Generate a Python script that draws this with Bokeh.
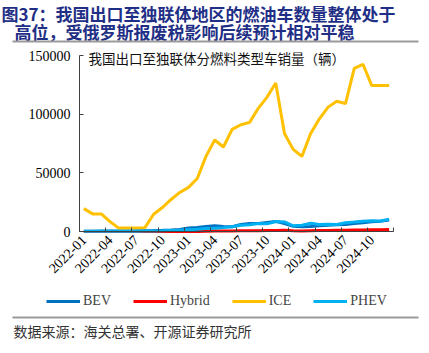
import math
from bokeh.plotting import figure
from bokeh.models import (Range1d, FixedTicker, Label, BoxAnnotation, Legend, LegendItem,
                          NumeralTickFormatter)
from bokeh.embed import file_html
from bokeh.resources import INLINE

months = [f"{y}-{m:02d}" for y in (2022, 2023, 2024) for m in range(1, 13)]

bev = [300, 300, 400, 400, 500, 500, 600, 700, 800, 1000, 1300, 1800,
       2900, 3400, 4300, 4800, 4300, 4000, 6000, 6800, 6800, 7700, 8600, 6800,
       4500, 4000, 4300, 5000, 5400, 5800, 6000, 6800, 7500, 8200, 8800, 9700]
hybrid = [0, 0, 0, 0, 0, 0, 0, 0, 0, 0, 0, 0,
          0, 0, 200, 400, 500, 500, 600, 700, 700, 800, 900, 1000,
          600, 500, 700, 800, 900, 1000, 1100, 1200, 1300, 1400, 1500, 1700]
ice = [19500, 15000, 15000, 8400, 2900, 3000, 3000, 3300, 14700, 20400, 27300, 33300,
       37600, 45200, 64000, 78000, 72000, 87000, 91000, 93000, 105000, 114500, 126500, 83500,
       70000, 64000, 83500, 96000, 106000, 111000, 109000, 139000, 142500, 124500, 124500, 124500]
phev = [200, 200, 200, 300, 300, 300, 300, 400, 500, 600, 800, 1000,
        1500, 2000, 2600, 2800, 3300, 4000, 5400, 5800, 6800, 6500, 8500, 8200,
        4800, 5400, 7000, 6000, 6200, 6000, 7500, 8000, 8800, 9100, 9000, 10500]

series_names = ["BEV", "Hybrid", "ICE", "PHEV"]
series_colors = ["#0070C0", "#FF0000", "#FFC000", "#00B0F0"]
y_ticks = [0, 50000, 100000, 150000]
y_max = 150000

title_1 = "图37：我国出口至独联体地区的燃油车数量整体处于"
title_2 = "高位，受俄罗斯报废税影响后续预计相对平稳"
inner_title = "我国出口至独联体分燃料类型车销量（辆）"
source = "数据来源：海关总署、开源证券研究所"

SERIF = "'Liberation Serif', 'Times New Roman', serif"
CJK = "'Noto Sans CJK SC'"

# ---- layout geometry (canvas pixels, from top-left) ----
W, H = 429, 353
AX_L, AX_R = 79, 393      # x extent of the category axis
AX_Y0, AX_YTOP = 231, 55  # canvas y of 0 and of y_max

n = len(months)
x0, x1 = -0.5, n - 0.5
xpx = (AX_R - AX_L) / (x1 - x0)
ypx = (AX_Y0 - AX_YTOP) / y_max
x_range = Range1d(x0 - AX_L / xpx, x1 + (W - AX_R) / xpx)
y_range = Range1d(-(H - AX_Y0) / ypx, y_max + AX_YTOP / ypx)

p = figure(width=W, height=H, output_backend="svg", toolbar_location=None,
           x_range=x_range, y_range=y_range,
           min_border=0, min_border_left=0, min_border_right=0,
           min_border_top=0, min_border_bottom=0)
p.outline_line_color = None
p.xgrid.visible = False
p.ygrid.visible = False
p.background_fill_color = "white"
p.border_fill_color = "white"

x = list(range(n))
renderers = []
for name, col, data in zip(series_names, series_colors, [bev, hybrid, ice, phev]):
    renderers.append(p.line(x, data, line_color=col, line_width=3))

label_idx = list(range(0, n, 3))
p.xaxis.fixed_location = 0
p.xaxis.bounds = (x0, x1)
p.xaxis.ticker = FixedTicker(ticks=label_idx,
                             minor_ticks=[i - 0.5 for i in range(0, n + 1, 3)])
p.xaxis.major_label_overrides = {i: months[i] for i in label_idx}
p.xaxis.major_label_orientation = math.pi / 4
p.xaxis.major_tick_in = 0
p.xaxis.major_tick_out = 0
p.xaxis.minor_tick_in = 4
p.xaxis.minor_tick_out = 0
p.xaxis.major_label_standoff = 6

p.yaxis.fixed_location = x0
p.yaxis.bounds = (0, y_max)
p.yaxis.ticker = FixedTicker(ticks=y_ticks)
p.yaxis.formatter = NumeralTickFormatter(format="0")
p.yaxis.major_tick_in = 4
p.yaxis.major_tick_out = 0
p.yaxis.minor_tick_in = 0
p.yaxis.minor_tick_out = 0
p.yaxis.major_label_standoff = 9
for ax in (p.xaxis, p.yaxis):
    ax.axis_line_color = "#404040"
    ax.major_tick_line_color = "#404040"
    ax.minor_tick_line_color = "#404040"
    ax.major_label_text_font = SERIF
    ax.major_label_text_font_size = "14px"
    ax.major_label_text_color = "#000000"


def lab(text, cx, cy, size, color, style="normal", font=CJK, baseline="middle"):
    p.add_layout(Label(x=cx, y=H - cy, x_units="screen", y_units="screen",
                       text=text, text_font=font, text_font_size=size,
                       text_color=color, text_font_style=style,
                       text_baseline=baseline, text_align="left"))


def hline(cy):
    p.add_layout(BoxAnnotation(left=12, right=418, top=H - cy + 1, bottom=H - cy - 1,
                               left_units="screen", right_units="screen",
                               top_units="screen", bottom_units="screen",
                               fill_color="#9a9a9a", fill_alpha=1, line_color=None))


lab(title_1, 1, 0, "17px", "#1f2f86", "bold", baseline="top")
lab(title_2, 14, 18, "17px", "#1f2f86", "bold", baseline="top")
hline(41)
lab(inner_title, 88, 57, "13.5px", "#111111")
hline(317)
lab(source, 13, 330, "14px", "#333333")

legend = Legend(items=[LegendItem(label=nm, renderers=[r]) for nm, r in zip(series_names, renderers)],
                orientation="horizontal", location=(46, H - 309),
                glyph_width=34, glyph_height=16, label_standoff=3, spacing=22,
                padding=0, margin=0, border_line_color=None, background_fill_alpha=0,
                label_text_font=SERIF, label_text_font_size="14px",
                label_height=16)
p.add_layout(legend, "center")

open("out.html", "w").write(file_html(p, INLINE))
